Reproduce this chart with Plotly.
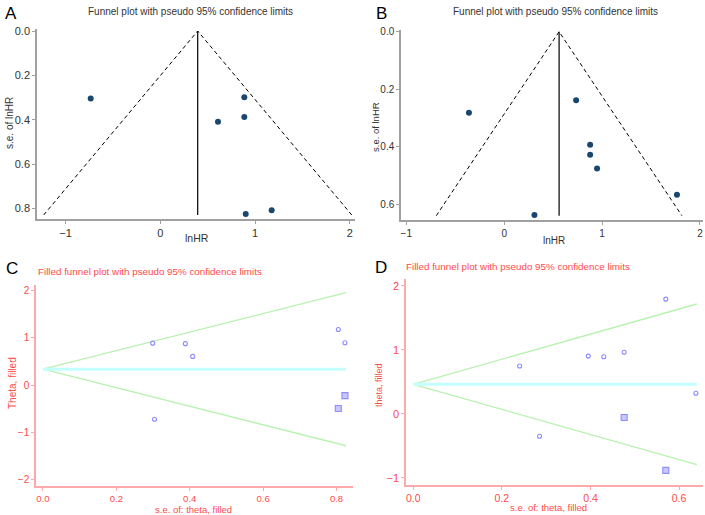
import plotly.graph_objects as go

# ---------------- data ----------------
# Panel A: funnel plot (lnHR vs s.e.)
a_lnhr = [-0.735, 0.887, 0.887, 0.609, 0.902, 1.176]
a_se = [0.305, 0.299, 0.388, 0.409, 0.826, 0.808]
a_center = 0.395
a_se_max = 0.83

# Panel B
b_lnhr = [-0.36, 0.735, 0.878, 0.878, 0.949, 1.765, 0.309]
b_se = [0.282, 0.238, 0.393, 0.428, 0.476, 0.567, 0.638]
b_center = 0.561
b_se_max = 0.64

# Panel C: filled funnel (theta vs s.e.)
c_se_obs = [0.299, 0.304, 0.388, 0.408, 0.805, 0.823]
c_theta_obs = [0.89, -0.72, 0.88, 0.61, 1.18, 0.90]
c_se_fill = [0.805, 0.823]
c_theta_fill = [-0.49, -0.22]
c_center = 0.34
c_se_max = 0.826

# Panel D
d_se_obs = [0.240, 0.285, 0.395, 0.430, 0.476, 0.570, 0.638]
d_theta_obs = [0.745, -0.353, 0.90, 0.89, 0.96, 1.79, 0.32]
d_se_fill = [0.476, 0.570]
d_theta_fill = [-0.06, -0.885]
d_center = 0.46
d_se_max = 0.64

Z = 1.96
W, H = 705, 515

fig = go.Figure()

NAVY = "#1a476f"
GRAYTXT = "#333333"
AXGRAY = "#a0a0a0"
RED = "#ff4a4a"
PINK = "#ffaaaa"
GREEN = "#b8f2b0"
CYAN = "#c4ffff"
LAV = "#8c8cff"


def funnel(lnhr, se, center, semax, xa, ya):
    fig.add_trace(go.Scatter(x=[center - Z * semax, center, center + Z * semax],
                             y=[semax, 0, semax], mode="lines",
                             line=dict(color="black", width=1, dash="4px,3px"),
                             xaxis=xa, yaxis=ya, showlegend=False, hoverinfo="skip"))
    fig.add_trace(go.Scatter(x=[center, center], y=[0, semax], mode="lines",
                             line=dict(color="black", width=1.2),
                             xaxis=xa, yaxis=ya, showlegend=False, hoverinfo="skip"))
    fig.add_trace(go.Scatter(x=lnhr, y=se, mode="markers",
                             marker=dict(color=NAVY, size=6),
                             xaxis=xa, yaxis=ya, showlegend=False))


def filled(se_o, th_o, se_f, th_f, center, semax, xa, ya):
    fig.add_trace(go.Scatter(x=[0, semax], y=[center, center + Z * semax], mode="lines",
                             line=dict(color=GREEN, width=1.3),
                             xaxis=xa, yaxis=ya, showlegend=False, hoverinfo="skip"))
    fig.add_trace(go.Scatter(x=[0, semax], y=[center, center - Z * semax], mode="lines",
                             line=dict(color=GREEN, width=1.3),
                             xaxis=xa, yaxis=ya, showlegend=False, hoverinfo="skip"))
    fig.add_trace(go.Scatter(x=[0, semax], y=[center, center], mode="lines",
                             line=dict(color=CYAN, width=3),
                             xaxis=xa, yaxis=ya, showlegend=False, hoverinfo="skip"))
    fig.add_trace(go.Scatter(x=se_o, y=th_o, mode="markers",
                             marker=dict(symbol="circle-open", color=LAV, size=4,
                                         line=dict(width=1.1, color=LAV)),
                             xaxis=xa, yaxis=ya, showlegend=False))
    fig.add_trace(go.Scatter(x=se_f, y=th_f, mode="markers",
                             marker=dict(symbol="square", color="#c8c8ff", size=6,
                                         line=dict(width=1.1, color=LAV)),
                             xaxis=xa, yaxis=ya, showlegend=False))


funnel(a_lnhr, a_se, a_center, a_se_max, "x", "y")
funnel(b_lnhr, b_se, b_center, b_se_max, "x2", "y2")
filled(c_se_obs, c_theta_obs, c_se_fill, c_theta_fill, c_center, c_se_max, "x3", "y3")
filled(d_se_obs, d_theta_obs, d_se_fill, d_theta_fill, d_center, d_se_max, "x4", "y4")


def px_dom(a, b, total):
    return [a / total, b / total]


def ydom(top, bottom):
    return [1 - bottom / H, 1 - top / H]


def axis(dom, rng, tickvals, ticktext, anchor, color, linecolor, size, ticklen=4):
    return dict(domain=dom, range=rng, tickvals=tickvals, ticktext=ticktext,
                anchor=anchor, showgrid=False, zeroline=False, showline=True,
                automargin=False,
                linecolor=linecolor, linewidth=1.5, ticks="outside", ticklen=ticklen,
                tickcolor=linecolor, tickwidth=1,
                tickfont=dict(family="Liberation Sans, Arial", size=size, color=color))


fig.update_layout(
    width=W, height=H, margin=dict(l=0, r=0, t=0, b=0, pad=0, autoexpand=False),
    paper_bgcolor="white", plot_bgcolor="white",
    xaxis=axis(px_dom(37, 355, W), [-1.302, 2.056], [-1, 0, 1, 2], ["−1", "0", "1", "2"],
               "y", GRAYTXT, AXGRAY, 11, 3),
    yaxis=axis(ydom(29, 219), [0.848, -0.009], [0, 0.2, 0.4, 0.6, 0.8],
               ["0.0", "0.2", "0.4", "0.6", "0.8"], "x", GRAYTXT, AXGRAY, 11, 3),
    xaxis2=axis(px_dom(401, 703, W), [-1.054, 2.031], [-1, 0, 1, 2], ["−1", "0", "1", "2"],
                "y2", GRAYTXT, AXGRAY, 10, 3),
    yaxis2=axis(ydom(30, 220), [0.655, -0.006], [0, 0.2, 0.4, 0.6],
                ["0.0", "0.2", "0.4", "0.6"], "x2", GRAYTXT, AXGRAY, 10, 3),
    xaxis3=axis(px_dom(36, 353, W), [-0.019, 0.845], [0, 0.2, 0.4, 0.6, 0.8],
                ["0.0", "0.2", "0.4", "0.6", "0.8"], "y3", RED, PINK, 9.5, 3),
    yaxis3=axis(ydom(285, 486), [-2.13, 2.12], [-2, -1, 0, 1, 2],
                ["−2", "−1", "0", "1", "2"], "x3", RED, PINK, 10, 3),
    xaxis4=axis(px_dom(406, 703, W), [-0.0165, 0.654], [0, 0.2, 0.4, 0.6],
                ["0.0", "0.2", "0.4", "0.6"], "y4", RED, PINK, 10.5, 3),
    yaxis4=axis(ydom(279, 485), [-1.114, 2.105], [-1, 0, 1, 2],
                ["−1", "0", "1", "2"], "x4", RED, PINK, 11, 3),
)


def ann(text, x, y, size, color, angle=0, xanchor="center"):
    fig.add_annotation(text=text, x=x / W, y=1 - y / H, xref="paper", yref="paper",
                       showarrow=False, textangle=angle, xanchor=xanchor, yanchor="middle",
                       font=dict(family="Liberation Sans, Arial", size=size, color=color))


# panel letters
ann("A", 11, 13, 17, "black")
ann("B", 381, 13, 17, "black")
ann("C", 12, 268, 17, "black")
ann("D", 381, 267, 17, "black")

# titles
ann("Funnel plot with pseudo 95% confidence limits", 190, 12, 10, GRAYTXT)
ann("Funnel plot with pseudo 95% confidence limits", 555, 12, 10, GRAYTXT)
ann("Filled funnel plot with pseudo 95% confidence limits", 36, 271, 9.8, RED, xanchor="left")
ann("Filled funnel plot with pseudo 95% confidence limits", 404, 266, 9.8, RED, xanchor="left")

# axis titles
ann("lnHR", 197, 238, 10.5, GRAYTXT)
ann("s.e. of lnHR", 10, 123, 10, GRAYTXT, angle=-90)
ann("lnHR", 554, 240, 10, GRAYTXT)
ann("s.e. of lnHR", 375, 127, 9.5, GRAYTXT, angle=-90)
ann("s.e. of: theta, filled", 193, 509, 9.5, RED)
ann("Theta, filled", 12, 383, 10, RED, angle=-90)
ann("s.e. of: theta, filled", 548, 507, 9.5, RED)
ann("theta, filled", 379, 385, 9, RED, angle=-90)

fig.write_html("out.html", config={"displayModeBar": False},
               post_script="document.body.style.margin='0px';document.body.style.overflow='hidden';")
